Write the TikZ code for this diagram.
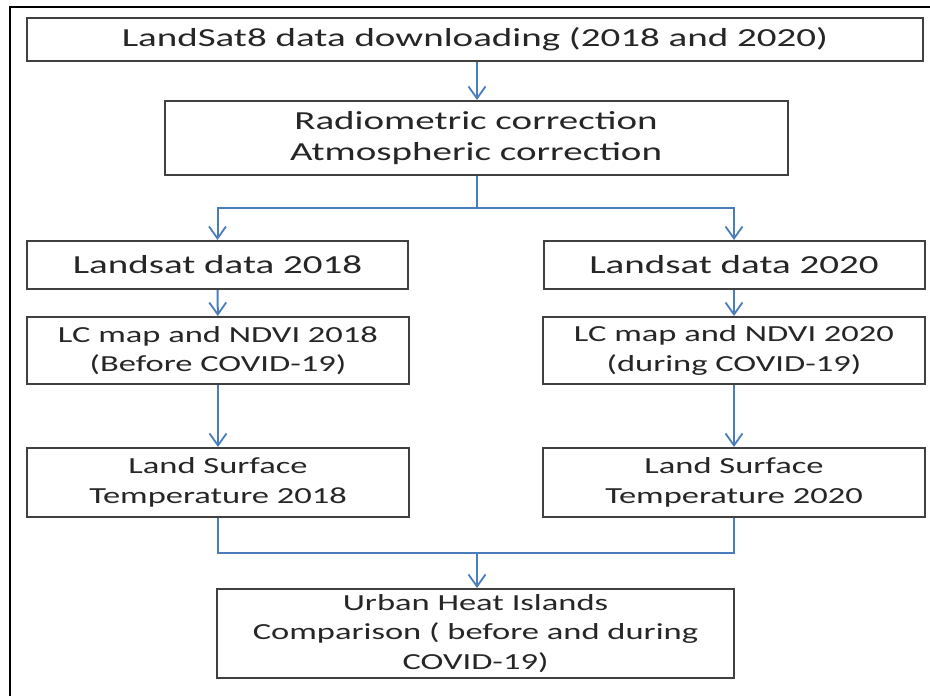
\documentclass[tikz,border=0pt]{standalone}
\usepackage{fontspec}
\setmainfont[FakeStretch=1.5]{Carlito}
\usetikzlibrary{arrows.meta}
\definecolor{boxline}{HTML}{404040}
\definecolor{txt}{HTML}{262626}
\definecolor{conncol}{HTML}{4A7EBB}
\begin{document}
\begin{tikzpicture}[x=1pt,y=-1pt,
  box/.style={draw=boxline, line width=2pt, inner sep=0pt, align=center,
    text=txt, font=\fontsize{26}{31}\selectfont},
  smallbox/.style={box, font=\fontsize{23}{29.5}\selectfont},
  conn/.style={draw=conncol, line width=2pt, -{Straight Barb[length=12pt,width=17pt,line width=1.8pt]}},
  plain/.style={draw=conncol, line width=2pt}]
\useasboundingbox (0,0) rectangle (930,696);
\fill[white] (0,0) rectangle (930,696);
% outer frame (top and left only)
\draw[line width=2.5pt, black] (10,696) -- (10,7) -- (930,7);

\node[box, minimum width=896pt, minimum height=43pt] (b1) at (475,39.5)
  {LandSat8 data downloading (2018 and 2020)};
\node[box, minimum width=623pt, minimum height=74pt] (b2) at (476,138)
  {Radiometric correction\\Atmospheric correction};
\node[box, minimum width=381pt, minimum height=48pt] (l1) at (217.5,265)
  {Landsat data 2018};
\node[box, minimum width=381pt, minimum height=48pt] (r1) at (734,265)
  {Landsat data 2020};
\node[smallbox, minimum width=382pt, minimum height=67pt] (l2) at (218,350.5)
  {LC map and NDVI 2018\\(Before COVID-19)};
\node[smallbox, minimum width=382pt, minimum height=67pt] (r2) at (734,350.5)
  {LC map and NDVI 2020\\(during COVID-19)};
\node[smallbox, minimum width=382pt, minimum height=69pt] (l3) at (218,482.5)
  {Land Surface\\Temperature 2018};
\node[smallbox, minimum width=382pt, minimum height=69pt] (r3) at (734,482.5)
  {Land Surface\\Temperature 2020};
\node[smallbox, minimum width=517pt, minimum height=89pt] (fin) at (475.5,633.5)
  {Urban Heat Islands\\Comparison ( before and during\\COVID-19)};

\coordinate (split) at (477,208);
\coordinate (merge) at (477,553);

\draw[conn] (b1.south -| split) -- (b2.north -| split);
\draw[plain] (b2.south -| split) -- (split);
\draw[conn] (split) -| (l1.north);
\draw[conn] (split) -| (r1.north);
\draw[conn] (l1) -- (l2);
\draw[conn] (r1) -- (r2);
\draw[conn] (l2) -- (l3);
\draw[conn] (r2) -- (r3);
\draw[plain] (l3.south) |- (merge);
\draw[plain] (r3.south) |- (merge);
\draw[conn] (merge) -- (fin.north -| merge);
\end{tikzpicture}
\end{document}
